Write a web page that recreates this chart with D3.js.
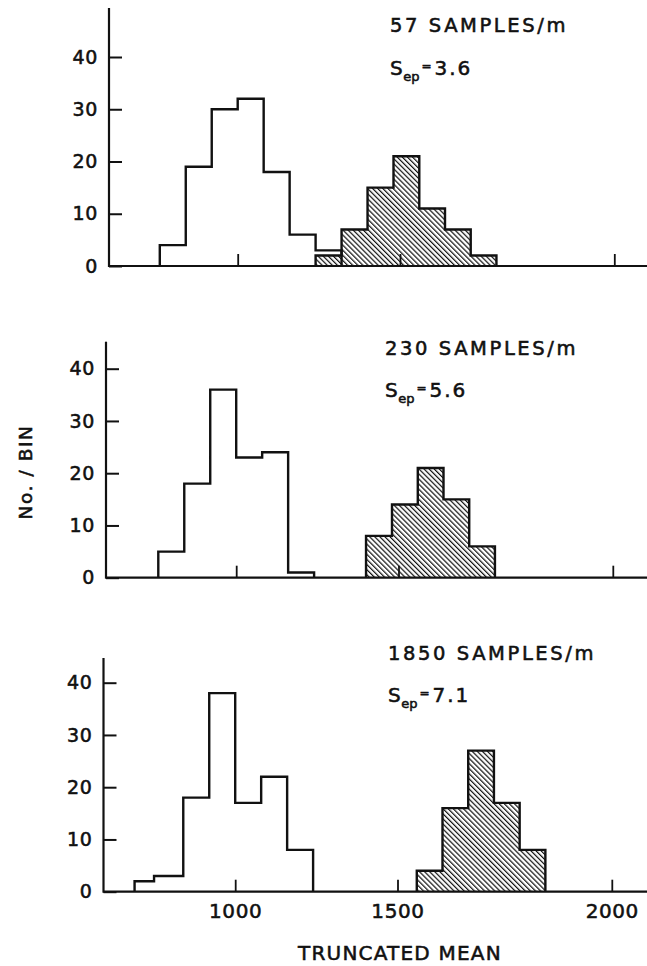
<!DOCTYPE html>
<html>
<head>
<meta charset="utf-8">
<script src="https://cdn.jsdelivr.net/npm/d3@7"></script>
<style>
  html, body { margin: 0; padding: 0; background: #fff; }
  svg { display: block; }
  text { font-family: "DejaVu Sans", sans-serif; fill: #111; stroke: #111; stroke-width: 0.55px; }
</style>
</head>
<body>
<svg id="chart" width="647" height="966"></svg>
<script>
// Sampling density of each panel and its separation figure
const panelLabels = ["57 SAMPLES/m", "230 SAMPLES/m", "1850 SAMPLES/m"];
const sepValues = ["3.6", "5.6", "7.1"];

// Open histogram: bin edges (truncated mean) and counts per bin
const openEdges = [
  [760, 840, 920, 1000, 1080, 1160, 1240, 1320],
  [760, 840, 920, 1000, 1080, 1160, 1240],
  [690, 750, 840, 920, 1000, 1080, 1160, 1240]
];
const openCounts = [
  [4, 19, 30, 32, 18, 6, 3],
  [5, 18, 36, 23, 24, 1],
  [2, 3, 18, 38, 17, 22, 8]
];

// Hatched histogram: bin edges and counts per bin
const hatchEdges = [
  [1240, 1320, 1400, 1480, 1545, 1605, 1665, 1725],
  [1400, 1480, 1545, 1605, 1665, 1725],
  [1545, 1605, 1665, 1725, 1785, 1845]
];
const hatchCounts = [
  [2, 7, 15, 21, 11, 7, 2],
  [8, 14, 21, 15, 6],
  [4, 16, 27, 17, 8]
];

const xTicks = [1000, 1500, 2000];
const yTicks = [0, 10, 20, 30, 40];
const xTitle = "TRUNCATED MEAN";
const yTitle = "No. / BIN";

// Panel geometry (pixels)
const panels = [
  { base: 266,   top: 8,     axisX: 109,   dx: 0,    titleY: 31.5, sepY: 75,  textX: 390 },
  { base: 577.7, top: 341.7, axisX: 106,   dx: -1.5, titleY: 355,  sepY: 397, textX: 385 },
  { base: 891.7, top: 658,   axisX: 103.5, dx: -2.5, titleY: 660,  sepY: 702, textX: 388 }
];
const rightEdge = 647;
const unit40 = 209;          // pixel height of 40 counts
const ink = "#111";

const svg = d3.select("#chart");

// Diagonal hatch fill
const defs = svg.append("defs");
defs.append("pattern")
    .attr("id", "hatch")
    .attr("patternUnits", "userSpaceOnUse")
    .attr("width", 3.6).attr("height", 10)
    .attr("patternTransform", "rotate(-45)")
  .append("line")
    .attr("x1", 0.6).attr("y1", 0).attr("x2", 0.6).attr("y2", 10)
    .attr("stroke", ink).attr("stroke-width", 1.25);

panels.forEach((p, i) => {
  const g = svg.append("g");

  const x = d3.scaleLinear()
      .domain([xTicks[0], xTicks[1], xTicks[2]])
      .range([237.7 + p.dx, 400 + p.dx, 614.3 + p.dx]);
  const y = d3.scaleLinear().domain([0, 40]).range([p.base, p.base - unit40]);

  // Step outline of a histogram built from edges and counts
  const stepLine = d3.line()
      .x(d => x(d[0]))
      .y(d => y(d[1]))
      .curve(d3.curveStepAfter);
  const stepPoints = (edges, counts) => {
    const pts = [[edges[0], 0]];
    counts.forEach((c, k) => pts.push([edges[k], c]));
    pts.push([edges[edges.length - 1], counts[counts.length - 1]]);
    pts.push([edges[edges.length - 1], 0]);
    return pts;
  };

  // hatched distribution
  g.append("path")
      .attr("d", stepLine(stepPoints(hatchEdges[i], hatchCounts[i])))
      .attr("fill", "url(#hatch)")
      .attr("stroke", ink).attr("stroke-width", 2.4)
      .attr("stroke-linejoin", "miter");

  // open distribution
  g.append("path")
      .attr("d", stepLine(stepPoints(openEdges[i], openCounts[i])))
      .attr("fill", "none")
      .attr("stroke", ink).attr("stroke-width", 2.4)
      .attr("stroke-linejoin", "miter");

  // baseline and left axis line
  g.append("line")
      .attr("x1", p.axisX).attr("x2", rightEdge)
      .attr("y1", p.base).attr("y2", p.base)
      .attr("stroke", ink).attr("stroke-width", 2.2);
  g.append("line")
      .attr("x1", p.axisX).attr("x2", p.axisX)
      .attr("y1", p.top).attr("y2", p.base + 1)
      .attr("stroke", ink).attr("stroke-width", 2.2);

  // x ticks (labels only on the bottom panel)
  const xAxis = d3.axisBottom(x)
      .tickValues(xTicks)
      .tickSizeInner(-12).tickSizeOuter(0).tickPadding(12.5)
      .tickFormat(i === panels.length - 1 ? d3.format("d") : () => "");
  const gx = g.append("g")
      .attr("transform", `translate(0,${p.base})`)
      .call(xAxis);
  gx.select(".domain").remove();
  gx.selectAll(".tick line").attr("stroke", ink).attr("stroke-width", 1.8);
  gx.selectAll(".tick text")
      .attr("font-size", 20).attr("letter-spacing", 0.6)
      .attr("fill", ink);

  // y ticks
  const yAxis = d3.axisLeft(y)
      .tickValues(yTicks)
      .tickSizeInner(-13).tickSizeOuter(0).tickPadding(11)
      .tickFormat(d3.format("d"));
  const gy = g.append("g")
      .attr("transform", `translate(${p.axisX},0)`)
      .call(yAxis);
  gy.select(".domain").remove();
  gy.selectAll(".tick line").attr("stroke", ink).attr("stroke-width", 2);
  gy.selectAll(".tick text")
      .attr("font-size", 19).attr("letter-spacing", 0.6)
      .attr("fill", ink);

  // panel annotations
  g.append("text")
      .attr("x", p.textX).attr("y", p.titleY)
      .attr("font-size", 19.5).attr("letter-spacing", 2.6)
      .text(panelLabels[i]);

  const sep = g.append("text")
      .attr("x", p.textX).attr("y", p.sepY)
      .attr("font-size", 20);
  sep.append("tspan").text("S");
  sep.append("tspan").attr("font-size", 13).attr("dy", 6).attr("dx", 0.5).text("ep");
  sep.append("tspan").attr("font-size", 12).attr("dy", -11).attr("dx", 2).text("=");
  sep.append("tspan").attr("dy", 5).attr("dx", 3).attr("letter-spacing", 2).text(sepValues[i]);
});

// axis titles
svg.append("text")
    .attr("x", 400).attr("y", 960)
    .attr("text-anchor", "middle")
    .attr("font-size", 20).attr("letter-spacing", 1.2)
    .text(xTitle);

svg.append("text")
    .attr("transform", "translate(32,472) rotate(-90)")
    .attr("text-anchor", "middle")
    .attr("font-size", 18.5).attr("letter-spacing", 1.6)
    .text(yTitle);
</script>
</body>
</html>
